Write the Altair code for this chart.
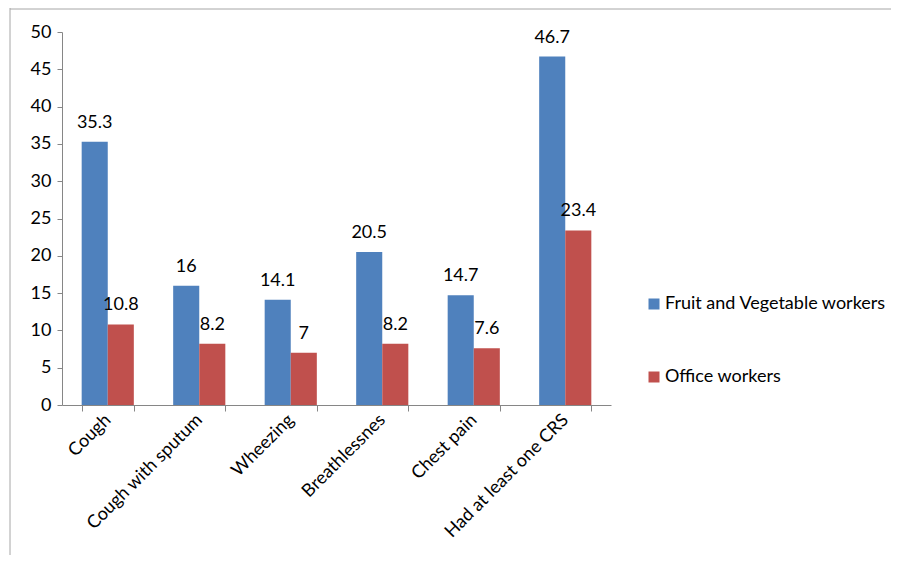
import altair as alt
import pandas as pd

categories = ["Cough", "Cough with sputum", "Wheezing", "Breathlessnes", "Chest pain", "Had at least one CRS"]
series_names = ["Fruit and Vegetable workers", "Office workers"]
fruit_veg = [35.3, 16, 14.1, 20.5, 14.7, 46.7]
office = [10.8, 8.2, 7, 8.2, 7.6, 23.4]
y_ticks = [0, 5, 10, 15, 20, 25, 30, 35, 40, 45, 50]
colors = ["#4F81BD", "#C0504D"]

rows = []
for c, a, b in zip(categories, fruit_veg, office):
    rows.append({"cat": c, "series": series_names[0], "value": a})
    rows.append({"cat": c, "series": series_names[1], "value": b})
df = pd.DataFrame(rows)

FONT = "Lato"
FS = 18
W, H = 549, 373

x_enc = alt.X("cat:N", sort=categories, title=None,
              scale=alt.Scale(paddingInner=0.43, paddingOuter=0.215),
              axis=alt.Axis(labelAngle=-45, labelAlign="right", labelBaseline="middle",
                            labelPadding=6, labelFontSize=FS, labelFont=FONT, labelColor="#000000",
                            domainColor="#868686", tickColor="#868686", tickSize=6,
                            tickBand="extent", labelLimit=400, labelOverlap=False, grid=False))
y_enc = alt.Y("value:Q", title=None,
              scale=alt.Scale(domain=[0, 50], nice=False),
              axis=alt.Axis(values=y_ticks, labelFontSize=FS, labelFont=FONT, labelColor="#000000",
                            domainColor="#868686", tickColor="#868686", tickSize=5,
                            labelPadding=6, labelOverlap=False, grid=False))
xoff = alt.XOffset("series:N", sort=series_names,
                   scale=alt.Scale(paddingInner=0, paddingOuter=0))
color_enc = alt.Color("series:N", sort=series_names,
                      scale=alt.Scale(domain=series_names, range=colors),
                      legend=alt.Legend(title=None, orient="none", legendX=583, legendY=263,
                                        labelFontSize=FS, labelFont=FONT, labelColor="#000000",
                                        symbolType="square", symbolSize=121, symbolStrokeWidth=0,
                                        rowPadding=55, labelOffset=2, padding=0, labelLimit=400))

base = alt.Chart(df)
bars = base.mark_bar().encode(
    x=x_enc, y=y_enc, xOffset=xoff, color=color_enc)
labels = base.mark_text(baseline="alphabetic", dy=-14, fontSize=FS, font=FONT, color="#000000").encode(
    x=x_enc, y=y_enc, xOffset=xoff,
    text=alt.Text("value:Q", format=".1~f"))

border_left = alt.Chart(pd.DataFrame({"k": [0]})).mark_rule(color="#a6a6a6", strokeWidth=1).encode(
    x=alt.value(-52), y=alt.value(-24), y2=alt.value(H + 160))
border_top = alt.Chart(pd.DataFrame({"k": [0]})).mark_rule(color="#a6a6a6", strokeWidth=1).encode(
    x=alt.value(-52), x2=alt.value(W + 340), y=alt.value(-23))

chart = alt.layer(bars, labels, border_left, border_top).properties(
    width=W, height=H,
    autosize=alt.AutoSizeParams(type="none"),
    padding={"left": 54, "top": 24, "right": 280, "bottom": 150},
).configure(
    background="#ffffff",
    view=alt.ViewConfig(stroke="#ffffff", strokeWidth=0),
    style={"cell": {"stroke": "#ffffff", "strokeWidth": 0}},
)

chart.save("out.html", embed_options={"renderer": "svg", "actions": False})
